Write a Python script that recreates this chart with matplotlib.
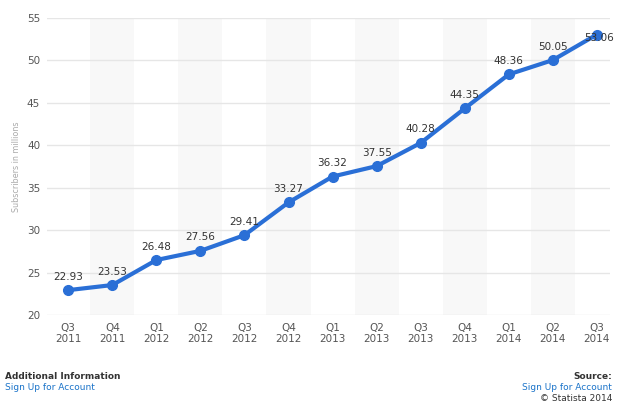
import matplotlib
matplotlib.use("Agg")
import matplotlib.pyplot as plt

quarters = ["Q3\n2011", "Q4\n2011", "Q1\n2012", "Q2\n2012", "Q3\n2012", "Q4\n2012",
            "Q1\n2013", "Q2\n2013", "Q3\n2013", "Q4\n2013", "Q1\n2014", "Q2\n2014", "Q3\n2014"]
subscribers = [22.93, 23.53, 26.48, 27.56, 29.41, 33.27, 36.32, 37.55, 40.28, 44.35, 48.36, 50.05, 53.06]
yticks = [20, 25, 30, 35, 40, 45, 50, 55]

fig = plt.figure(figsize=(6.2, 4.11), dpi=100)
ax = fig.add_axes([0.076, 0.2336, 0.908, 0.7224])
x = list(range(len(quarters)))

for i in x:
    if i % 2 == 1:
        ax.axvspan(i - 0.5, i + 0.5, color="#f8f8f8", zorder=0, lw=0)

for t in yticks:
    ax.axhline(t, color="#e6e6e6", lw=1, zorder=1)

ax.plot(x, subscribers, color="#2a6fd6", lw=3, marker="o", ms=7, zorder=3, clip_on=False)
last = len(subscribers) - 1
for xi, v in zip(x, subscribers):
    if xi == last:
        ax.text(xi + 0.05, v - 0.4, f"{v:.2f}", ha="center", va="center", fontsize=7.5, color="#333333", zorder=4)
    else:
        ax.text(xi, v + 1.0, f"{v:.2f}", ha="center", va="bottom", fontsize=7.5, color="#333333", zorder=4)

ax.set_xlim(-0.48, 12.3)
ax.set_ylim(20, 55)
ax.set_yticks(yticks)
ax.set_xticks(x)
ax.set_xticklabels(quarters, fontsize=7.5, color="#555555", linespacing=1.1)
ax.tick_params(axis="y", labelsize=7.5, colors="#555555", length=0, pad=5)
ax.tick_params(axis="x", length=0, pad=6)
for s in ax.spines.values():
    s.set_visible(False)
ax.set_ylabel("Subscribers in millions", fontsize=5.8, color="#aaaaaa", labelpad=4)

fig.text(5/620, 1-376/411, "Additional Information", fontsize=6.5, fontweight="bold", color="#333333", va="center")
fig.text(5/620, 1-387/411, "Sign Up for Account", fontsize=6.5, color="#1a73c9", va="center")
fig.text(612/620, 1-376/411, "Source:", fontsize=6.5, fontweight="bold", color="#333333", va="center", ha="right")
fig.text(612/620, 1-387/411, "Sign Up for Account", fontsize=6.5, color="#1a73c9", va="center", ha="right")
fig.text(612/620, 1-398/411, "© Statista 2014", fontsize=6.5, color="#333333", va="center", ha="right")

fig.savefig("out.png", dpi=100)
